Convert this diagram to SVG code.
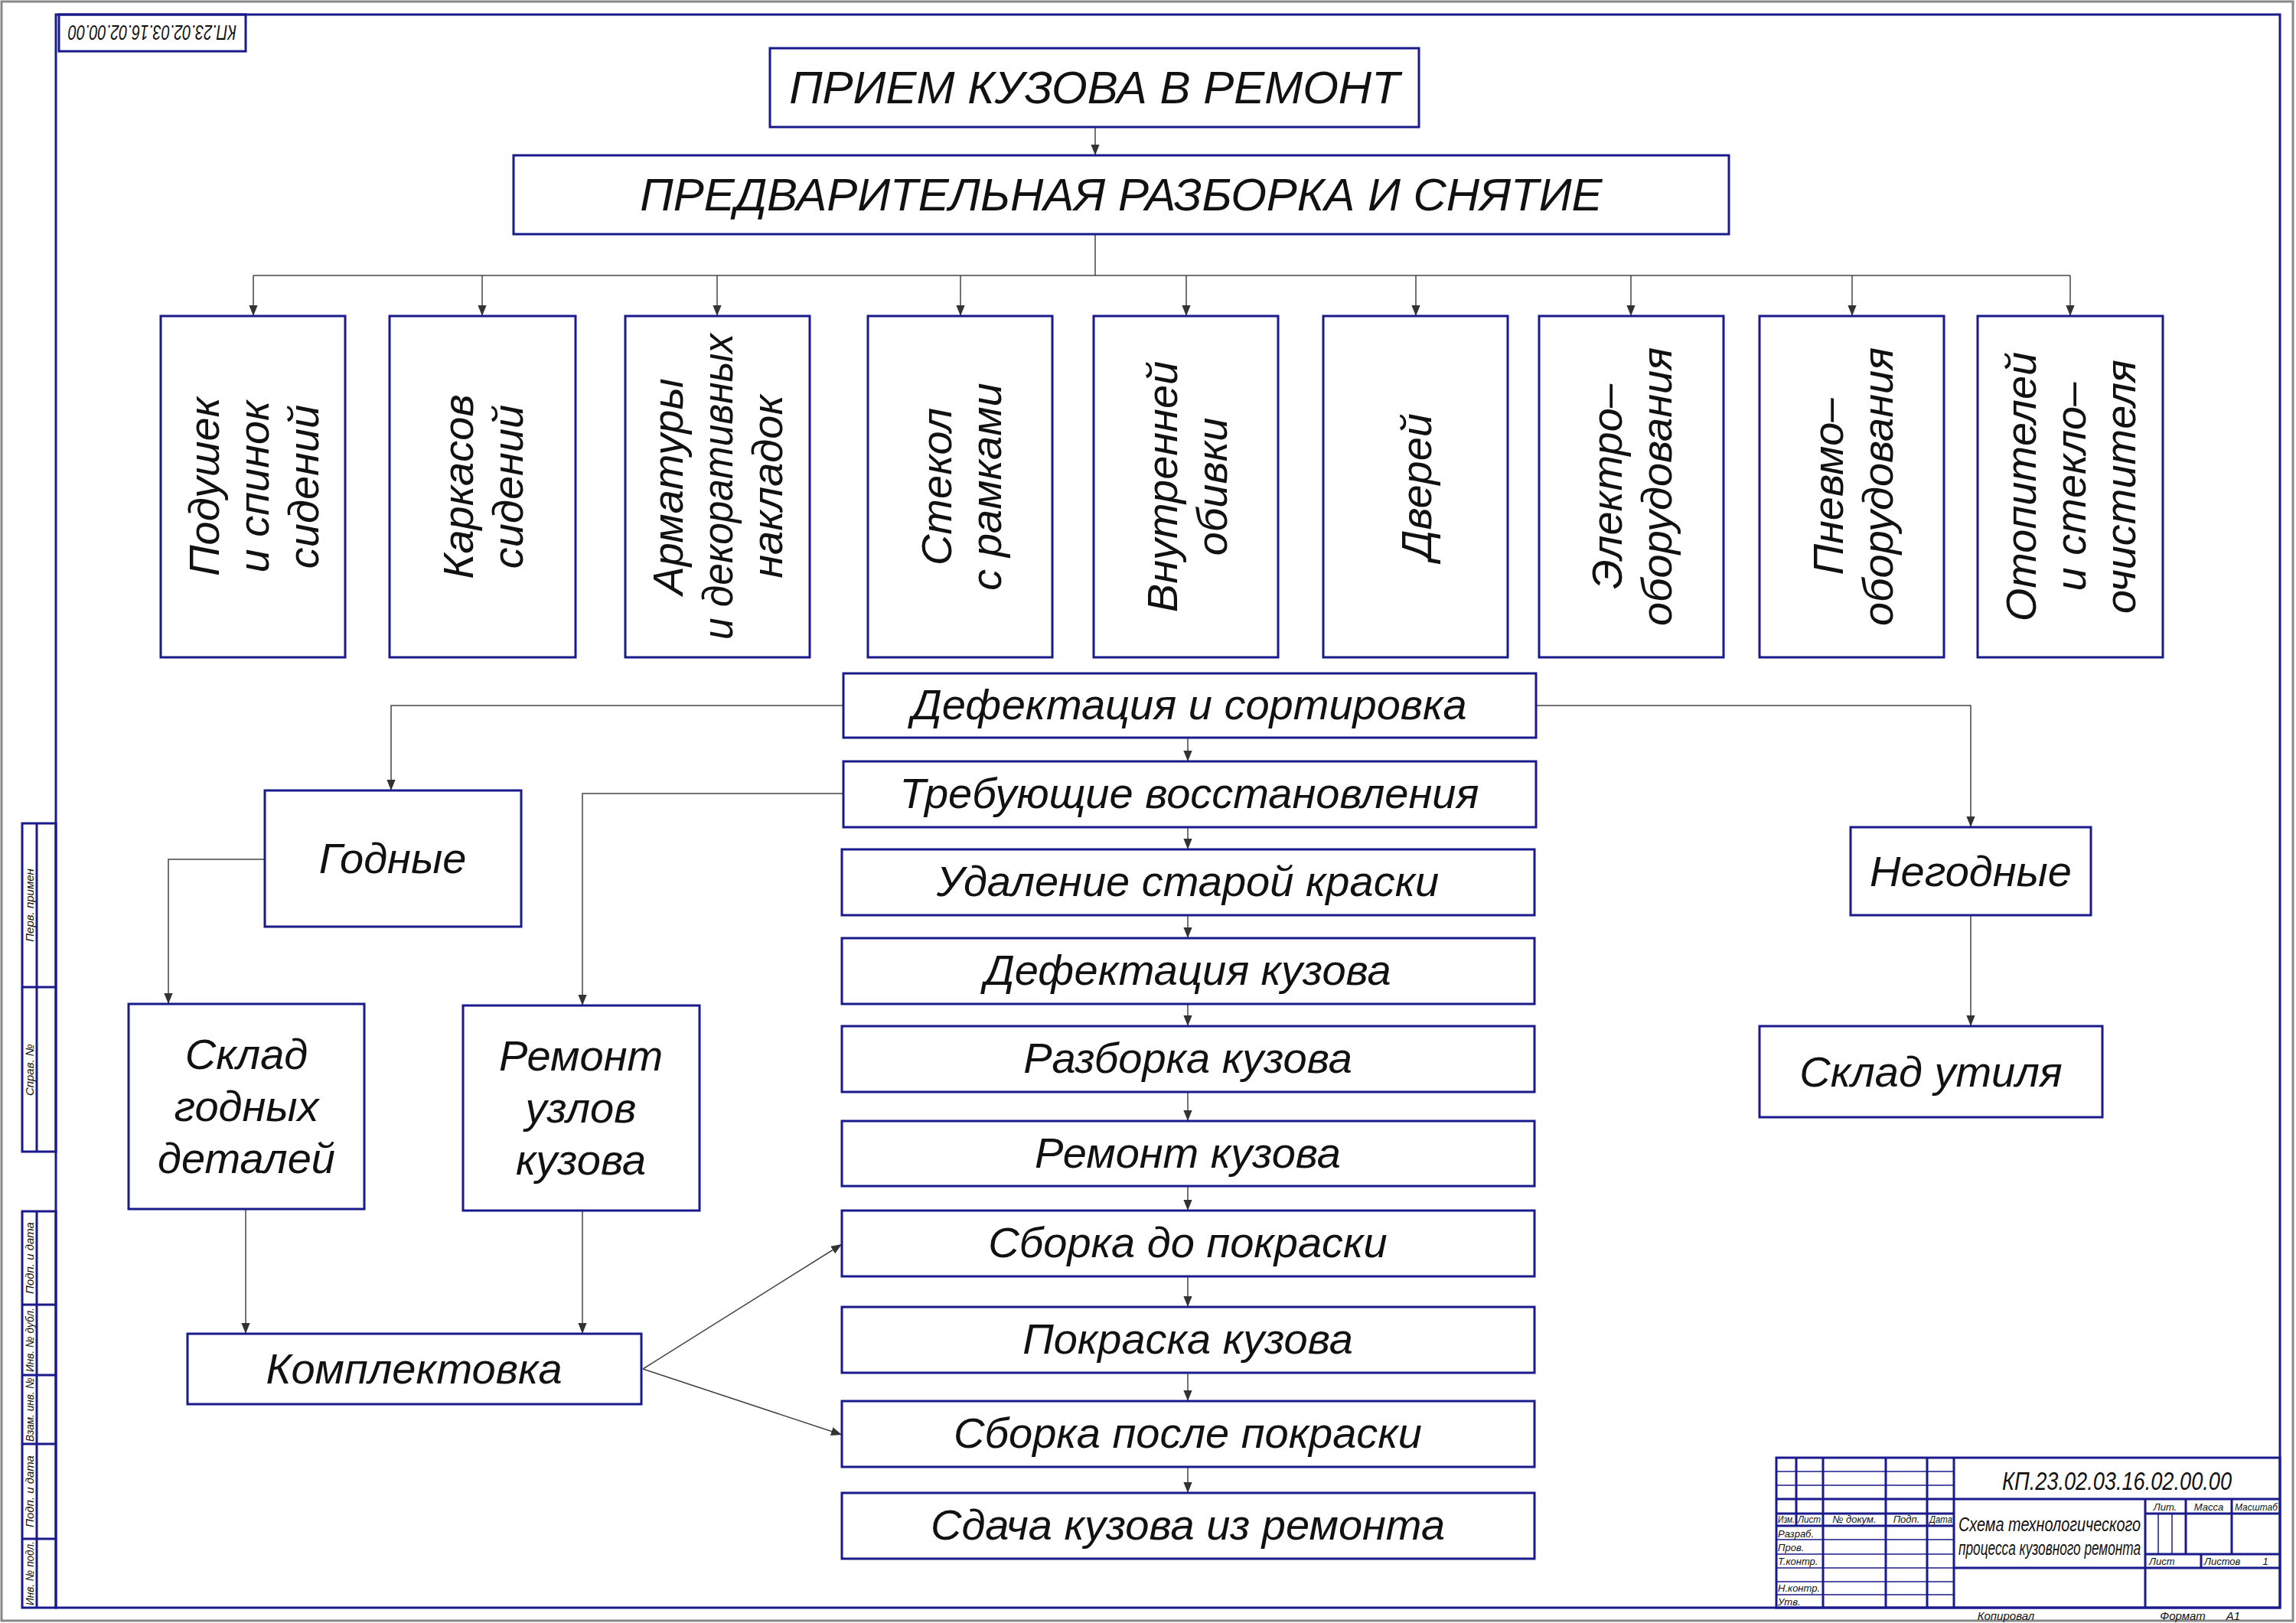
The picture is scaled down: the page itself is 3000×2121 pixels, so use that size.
<svg xmlns="http://www.w3.org/2000/svg" width="3000" height="2121" viewBox="0 0 3000 2121">
<defs>
<marker id="ah" viewBox="0 0 10 10" refX="10" refY="5" markerWidth="14" markerHeight="14" markerUnits="userSpaceOnUse" orient="auto"><path d="M0,1 L10,5 L0,9 Z" fill="#333"/></marker>
<style>
.b{fill:#fff;stroke:#1a1a8c;stroke-width:3}
.f{fill:none;stroke:#1a1a8c;stroke-width:3}
.g{fill:none;stroke:#1a1a8c;stroke-width:1.5}
.c{fill:none;stroke:#444;stroke-width:1.5;marker-end:url(#ah)}
.cn{fill:none;stroke:#444;stroke-width:1.5}
text{font-family:"Liberation Sans","DejaVu Sans",sans-serif;font-style:italic;fill:#111;text-anchor:middle}
.t{font-size:56px}
.T{font-size:60px}
.v{font-size:56px}
.x{font-size:15px}
.h{font-size:13px}
</style>
</defs>
<rect x="2" y="2" width="2994" height="2116" fill="#fff" stroke="#888" stroke-width="3"/>
<rect x="73" y="19" width="2906" height="2082" class="f"/>
<g id="stamp-top"><rect x="77" y="19" width="244" height="48" class="f"/>
<text transform="translate(199,43) rotate(180)" dy="10" font-size="28" textLength="220" lengthAdjust="spacingAndGlyphs">КП.23.02.03.16.02.00.00</text></g>
<g id="side-strip">
<rect x="29" y="1076" width="44" height="429" class="f"/>
<line x1="29" y1="1290" x2="73" y2="1290" class="f"/><line x1="48" y1="1076" x2="48" y2="1505" class="f"/>
<rect x="29" y="1583" width="44" height="518" class="f"/>
<line x1="48" y1="1583" x2="48" y2="2101" class="f"/>
<line x1="29" y1="1705" x2="73" y2="1705" class="f"/><line x1="29" y1="1797" x2="73" y2="1797" class="f"/><line x1="29" y1="1887" x2="73" y2="1887" class="f"/><line x1="29" y1="2011" x2="73" y2="2011" class="f"/>
<text class="x" transform="translate(44,1183) rotate(-90)">Перв. примен</text>
<text class="x" transform="translate(44,1398) rotate(-90)">Справ. №</text>
<text class="x" transform="translate(44,1644) rotate(-90)">Подп. и дата</text>
<text class="x" transform="translate(44,1751) rotate(-90)" textLength="84" lengthAdjust="spacingAndGlyphs">Инв. № дубл.</text>
<text class="x" transform="translate(44,1842) rotate(-90)" textLength="84" lengthAdjust="spacingAndGlyphs">Взам. инв. №</text>
<text class="x" transform="translate(44,1949) rotate(-90)">Подп. и дата</text>
<text class="x" transform="translate(44,2056) rotate(-90)" textLength="84" lengthAdjust="spacingAndGlyphs">Инв. № подл.</text>
</g>
<g id="title-block">
<rect x="2321" y="1905" width="658" height="196" class="f"/>
<g class="g">
<line x1="2321" y1="1923" x2="2553" y2="1923"/><line x1="2321" y1="1941" x2="2553" y2="1941"/><line x1="2321" y1="2031" x2="2553" y2="2031"/><line x1="2321" y1="2049" x2="2553" y2="2049"/><line x1="2321" y1="2067" x2="2553" y2="2067"/><line x1="2321" y1="2084" x2="2553" y2="2084"/><line x1="2321" y1="2012" x2="2553" y2="2012"/>
<line x1="2820" y1="1978" x2="2820" y2="2031"/><line x1="2838" y1="1978" x2="2838" y2="2031"/>
</g>
<g class="f">
<line x1="2321" y1="1959" x2="2979" y2="1959"/><line x1="2321" y1="1978" x2="2553" y2="1978"/><line x1="2321" y1="1994" x2="2553" y2="1994"/>
<line x1="2347" y1="1905" x2="2347" y2="1994"/><line x1="2382" y1="1905" x2="2382" y2="2101"/><line x1="2464" y1="1905" x2="2464" y2="2101"/><line x1="2518" y1="1905" x2="2518" y2="2101"/><line x1="2553" y1="1905" x2="2553" y2="2101"/>
<line x1="2803" y1="1959" x2="2803" y2="2101"/><line x1="2553" y1="2049" x2="2979" y2="2049"/>
<line x1="2803" y1="1978" x2="2979" y2="1978"/><line x1="2803" y1="2031" x2="2979" y2="2031"/>
<line x1="2856" y1="1959" x2="2856" y2="2031"/><line x1="2916" y1="1959" x2="2916" y2="2031"/><line x1="2876" y1="2031" x2="2876" y2="2049"/>
</g>
<text x="2766" y="1947" font-size="34" textLength="300" lengthAdjust="spacingAndGlyphs">КП.23.02.03.16.02.00.00</text>
<text x="2678" y="2001" font-size="26" textLength="238" lengthAdjust="spacingAndGlyphs">Схема технологического</text>
<text x="2678" y="2032" font-size="26" textLength="238" lengthAdjust="spacingAndGlyphs">процесса кузовного ремонта</text>
<g class="h"><text x="2829" y="1974">Лит.</text><text x="2886" y="1974">Масса</text><text x="2948" y="1974" textLength="56" lengthAdjust="spacingAndGlyphs">Масштаб</text>
<text x="2808" y="2045" style="text-anchor:start">Лист</text><text x="2880" y="2045" style="text-anchor:start">Листов</text><text x="2960" y="2045">1</text>
<text x="2334" y="1990" textLength="22" lengthAdjust="spacingAndGlyphs">Изм.</text><text x="2364" y="1990" textLength="30" lengthAdjust="spacingAndGlyphs">Лист</text><text x="2423" y="1990">№ докум.</text><text x="2491" y="1990">Подп.</text><text x="2536" y="1990" textLength="30" lengthAdjust="spacingAndGlyphs">Дата</text>
<text x="2323" y="2009" style="text-anchor:start">Разраб.</text><text x="2323" y="2027" style="text-anchor:start">Пров.</text><text x="2323" y="2045" style="text-anchor:start">Т.контр.</text><text x="2323" y="2080" style="text-anchor:start">Н.контр.</text><text x="2323" y="2098" style="text-anchor:start">Утв.</text></g>
<text x="2621" y="2117" font-size="15">Копировал</text>
<text x="2852" y="2117" font-size="15">Формат</text><text x="2918" y="2117" font-size="15">А1</text>
</g>

<g id="connectors">
<line x1="1431" y1="166" x2="1431" y2="203" class="c"/>
<line x1="1431" y1="306" x2="1431" y2="360" class="cn"/>
<line x1="331" y1="360" x2="2705" y2="360" class="cn"/>
<line x1="331" y1="360" x2="331" y2="413" class="c"/>
<line x1="630" y1="360" x2="630" y2="413" class="c"/>
<line x1="937" y1="360" x2="937" y2="413" class="c"/>
<line x1="1255" y1="360" x2="1255" y2="413" class="c"/>
<line x1="1550" y1="360" x2="1550" y2="413" class="c"/>
<line x1="1850" y1="360" x2="1850" y2="413" class="c"/>
<line x1="2131" y1="360" x2="2131" y2="413" class="c"/>
<line x1="2420" y1="360" x2="2420" y2="413" class="c"/>
<line x1="2705" y1="360" x2="2705" y2="413" class="c"/>
<line x1="1552" y1="964" x2="1552" y2="995" class="c"/>
<line x1="1552" y1="1081" x2="1552" y2="1110" class="c"/>
<line x1="1552" y1="1196" x2="1552" y2="1226" class="c"/>
<line x1="1552" y1="1312" x2="1552" y2="1341" class="c"/>
<line x1="1552" y1="1427" x2="1552" y2="1465" class="c"/>
<line x1="1552" y1="1550" x2="1552" y2="1582" class="c"/>
<line x1="1552" y1="1668" x2="1552" y2="1708" class="c"/>
<line x1="1552" y1="1794" x2="1552" y2="1831" class="c"/>
<line x1="1552" y1="1917" x2="1552" y2="1951" class="c"/>
<polyline points="1102,922 511,922 511,1033" class="c"/>
<polyline points="2007,922 2575,922 2575,1081" class="c"/>
<line x1="2575" y1="1196" x2="2575" y2="1341" class="c"/>
<polyline points="346,1123 220,1123 220,1312" class="c"/>
<polyline points="1102,1037 761,1037 761,1314" class="c"/>
<line x1="321" y1="1580" x2="321" y2="1743" class="c"/>
<line x1="761" y1="1582" x2="761" y2="1743" class="c"/>
<line x1="840" y1="1789" x2="1100" y2="1626" class="c"/>
<line x1="840" y1="1789" x2="1100" y2="1875" class="c"/>
</g>

<g id="n-priem"><rect x="1006" y="63" width="848" height="103" class="b"/><text x="1430" y="135" class="T">ПРИЕМ КУЗОВА В РЕМОНТ</text></g>
<g id="n-predv"><rect x="671" y="203" width="1588" height="103" class="b"/><text x="1465" y="275" class="T">ПРЕДВАРИТЕЛЬНАЯ РАЗБОРКА И СНЯТИЕ</text></g>

<g id="v1"><rect x="210" y="413" width="241" height="446" class="b"/><text class="v" transform="translate(331,636) rotate(-90)"><tspan x="0" y="-45">Подушек</tspan><tspan x="0" y="20">и спинок</tspan><tspan x="0" y="85">сидений</tspan></text></g>
<g id="v2"><rect x="509" y="413" width="243" height="446" class="b"/><text class="v" transform="translate(630,636) rotate(-90)"><tspan x="0" y="-12">Каркасов</tspan><tspan x="0" y="53">сидений</tspan></text></g>
<g id="v3"><rect x="817" y="413" width="241" height="446" class="b"/><text class="v" transform="translate(937,636) rotate(-90)"><tspan x="0" y="-45">Арматуры</tspan><tspan x="0" y="20" textLength="400" lengthAdjust="spacingAndGlyphs">и декоративных</tspan><tspan x="0" y="85">накладок</tspan></text></g>
<g id="v4"><rect x="1134" y="413" width="241" height="446" class="b"/><text class="v" transform="translate(1255,636) rotate(-90)"><tspan x="0" y="-12">Стекол</tspan><tspan x="0" y="53">с рамками</tspan></text></g>
<g id="v5"><rect x="1429" y="413" width="241" height="446" class="b"/><text class="v" transform="translate(1550,636) rotate(-90)"><tspan x="0" y="-12">Внутренней</tspan><tspan x="0" y="53">обивки</tspan></text></g>
<g id="v6"><rect x="1729" y="413" width="241" height="446" class="b"/><text class="v" transform="translate(1850,636) rotate(-90)"><tspan x="0" y="20">Дверей</tspan></text></g>
<g id="v7"><rect x="2011" y="413" width="241" height="446" class="b"/><text class="v" transform="translate(2131,636) rotate(-90)"><tspan x="0" y="-12">Электро–</tspan><tspan x="0" y="53">оборудования</tspan></text></g>
<g id="v8"><rect x="2299" y="413" width="241" height="446" class="b"/><text class="v" transform="translate(2420,636) rotate(-90)"><tspan x="0" y="-12">Пневмо–</tspan><tspan x="0" y="53">оборудования</tspan></text></g>
<g id="v9"><rect x="2584" y="413" width="242" height="446" class="b"/><text class="v" transform="translate(2705,636) rotate(-90)"><tspan x="0" y="-45">Отопителей</tspan><tspan x="0" y="20">и стекло–</tspan><tspan x="0" y="85">очистителя</tspan></text></g>

<g id="c1"><rect x="1102" y="880" width="905" height="84" class="b"/><text x="1554" y="940" class="t">Дефектация и сортировка</text></g>
<g id="c2"><rect x="1102" y="995" width="905" height="86" class="b"/><text x="1554" y="1056" class="t">Требующие восстановления</text></g>
<g id="c3"><rect x="1100" y="1110" width="905" height="86" class="b"/><text x="1552" y="1171" class="t">Удаление старой краски</text></g>
<g id="c4"><rect x="1100" y="1226" width="905" height="86" class="b"/><text x="1552" y="1287" class="t">Дефектация кузова</text></g>
<g id="c5"><rect x="1100" y="1341" width="905" height="86" class="b"/><text x="1552" y="1402" class="t">Разборка кузова</text></g>
<g id="c6"><rect x="1100" y="1465" width="905" height="85" class="b"/><text x="1552" y="1526" class="t">Ремонт кузова</text></g>
<g id="c7"><rect x="1100" y="1582" width="905" height="86" class="b"/><text x="1552" y="1643" class="t">Сборка до покраски</text></g>
<g id="c8"><rect x="1100" y="1708" width="905" height="86" class="b"/><text x="1552" y="1769" class="t">Покраска кузова</text></g>
<g id="c9"><rect x="1100" y="1831" width="905" height="86" class="b"/><text x="1552" y="1892" class="t">Сборка после покраски</text></g>
<g id="c10"><rect x="1100" y="1951" width="905" height="86" class="b"/><text x="1552" y="2012" class="t">Сдача кузова из ремонта</text></g>

<g id="n-godnye"><rect x="346" y="1033" width="335" height="178" class="b"/><text x="513" y="1141" class="t">Годные</text></g>
<g id="n-negodnye"><rect x="2418" y="1081" width="314" height="115" class="b"/><text x="2575" y="1158" class="t">Негодные</text></g>
<g id="n-util"><rect x="2299" y="1341" width="448" height="119" class="b"/><text x="2523" y="1420" class="t">Склад утиля</text></g>
<g id="n-sklad"><rect x="168" y="1312" width="308" height="268" class="b"/><text class="t"><tspan x="322" y="1397">Склад</tspan><tspan x="322" y="1465">годных</tspan><tspan x="322" y="1533">деталей</tspan></text></g>
<g id="n-remont"><rect x="605" y="1314" width="309" height="268" class="b"/><text class="t"><tspan x="759" y="1399">Ремонт</tspan><tspan x="759" y="1467">узлов</tspan><tspan x="759" y="1535">кузова</tspan></text></g>
<g id="n-kompl"><rect x="245" y="1743" width="593" height="92" class="b"/><text x="541" y="1808" class="t">Комплектовка</text></g>
</svg>
